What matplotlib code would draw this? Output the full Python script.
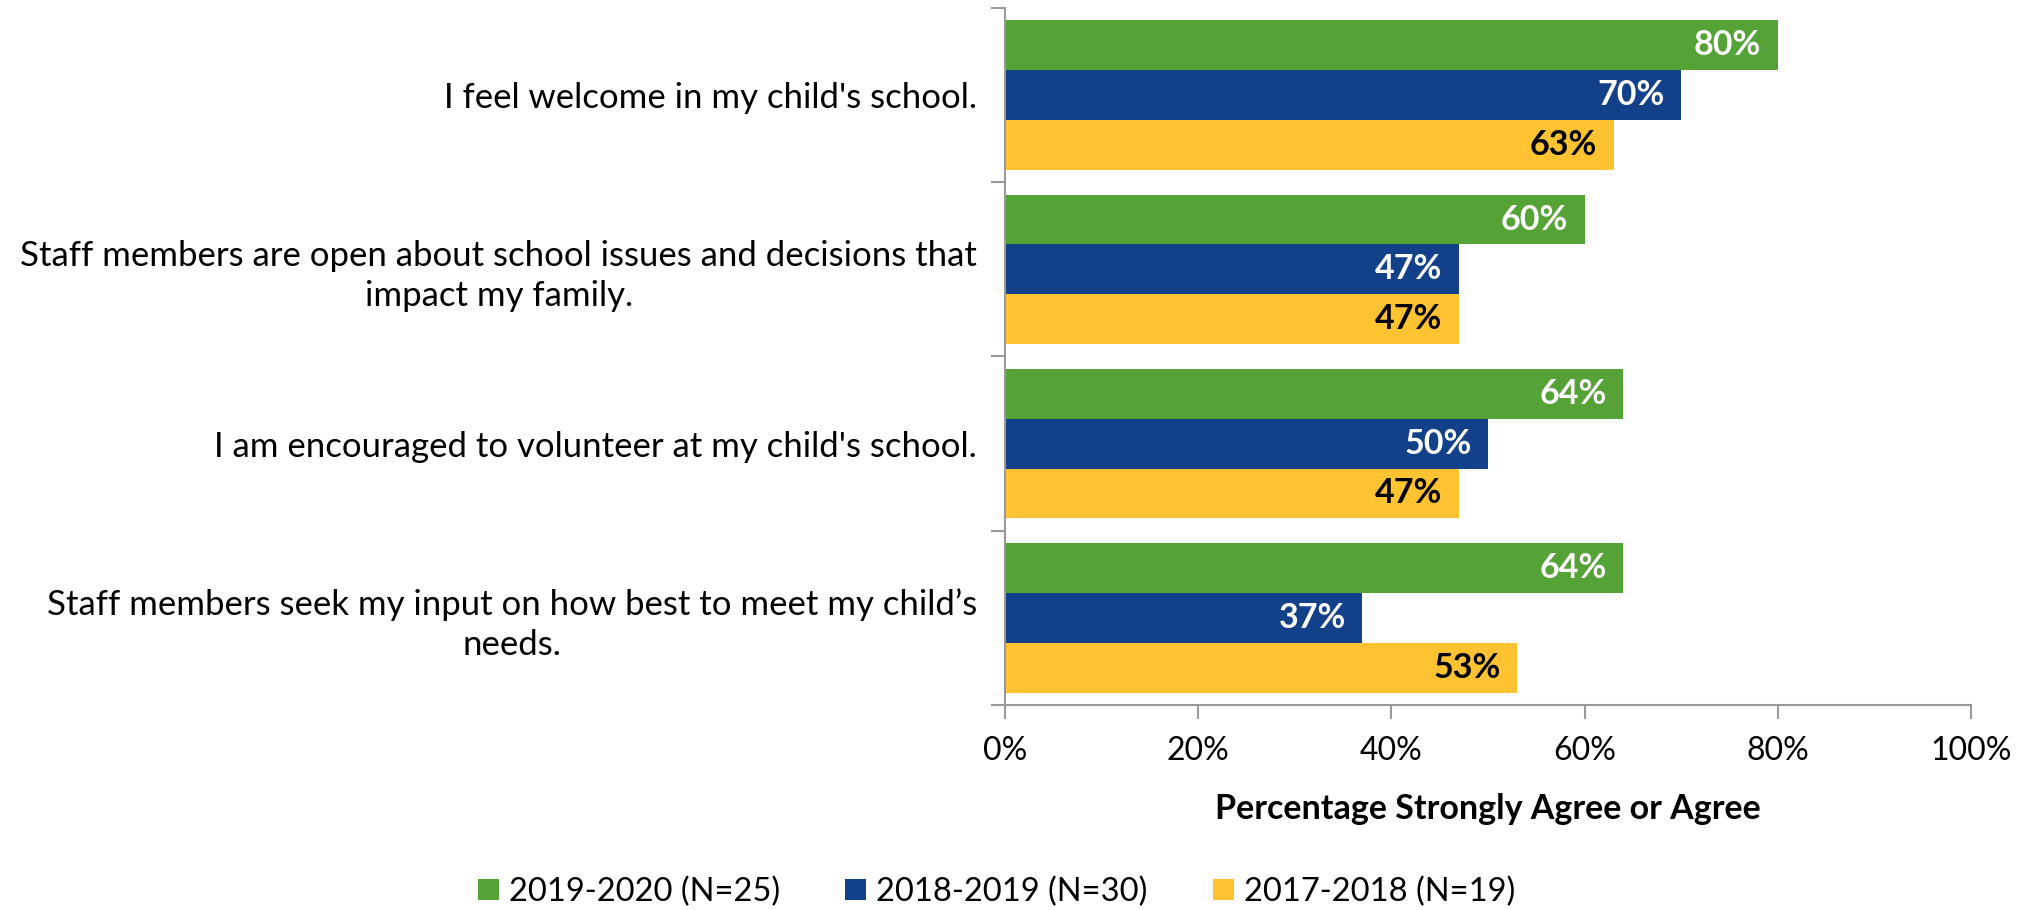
import numpy as np
import matplotlib.pyplot as plt

# Datos del gráfico
categorias = [
    "I feel welcome in my child's school.",
    "Staff members are open about school issues and decisions that\nimpact my family.",
    "I am encouraged to volunteer at my child's school.",
    "Staff members seek my input on how best to meet my child\u2019s\nneeds.",
]
series = ["2019-2020 (N=25)", "2018-2019 (N=30)", "2017-2018 (N=19)"]
v_2019_2020 = [80, 60, 64, 64]
v_2018_2019 = [70, 47, 50, 37]
v_2017_2018 = [63, 47, 47, 53]
colores = ["#55A237", "#134189", "#FFC231"]
color_texto = ["white", "white", "black"]
xticks = [0, 20, 40, 60, 80, 100]

plt.rcParams['font.family'] = ['Lato', 'DejaVu Sans']


def bar_plot():
    fig = plt.figure(figsize=(20.33, 9.10), dpi=100)
    ax = fig.add_axes([0.4943, 0.2253, 0.4752, 0.7659])

    valores = [v_2019_2020, v_2018_2019, v_2017_2018]
    n = len(categorias)
    y = np.arange(n)  # centros de cada grupo, el primero arriba
    h = 0.286
    for k, (vals, nombre) in enumerate(zip(valores, series)):
        pos = y + (k - 1) * h
        bars = ax.barh(pos, vals, height=h, color=colores[k], label=nombre)
        for b, v in zip(bars, vals):
            ax.text(b.get_width() - 1.7, b.get_y() + b.get_height() / 2, f"{v}%",
                    ha='right', va='center', fontsize=24.5, fontweight='bold',
                    color=color_texto[k])

    ax.set_ylim(n - 0.5, -0.5)
    ax.set_xlim(0, 100)

    # Marcas del eje Y en los límites de los grupos, etiquetas en el centro
    ax.set_yticks(np.arange(n + 1) - 0.5)
    ax.set_yticklabels([])
    ax.set_yticks(y, minor=True)
    ax.set_yticklabels(categorias, minor=True, fontsize=25, multialignment='center',
                       linespacing=1.3)
    ax.tick_params(axis='y', which='major', length=10, color='#999999', width=1.5)
    ax.tick_params(axis='y', which='minor', length=0, pad=20)

    ax.set_xticks(xticks)
    ax.set_xticklabels([f"{t}%" for t in xticks], fontsize=23)
    ax.tick_params(axis='x', length=10, color='#999999', width=1.5, pad=12)
    ax.set_xlabel("Percentage Strongly Agree or Agree", fontsize=24.5,
                  fontweight='bold', labelpad=20)

    for s in ['top', 'right']:
        ax.spines[s].set_visible(False)
    for s in ['left', 'bottom']:
        ax.spines[s].set_color('#999999')
        ax.spines[s].set_linewidth(1.5)

    ax.legend(loc='center', bbox_to_anchor=(0.49, 0.02), bbox_transform=fig.transFigure,
              ncol=3, frameon=False, fontsize=23.5, handlelength=0.65, handleheight=0.65,
              handletextpad=0.3, columnspacing=2.0)

    fig.savefig("out.png", dpi=100)


if __name__ == '__main__':
    bar_plot()
